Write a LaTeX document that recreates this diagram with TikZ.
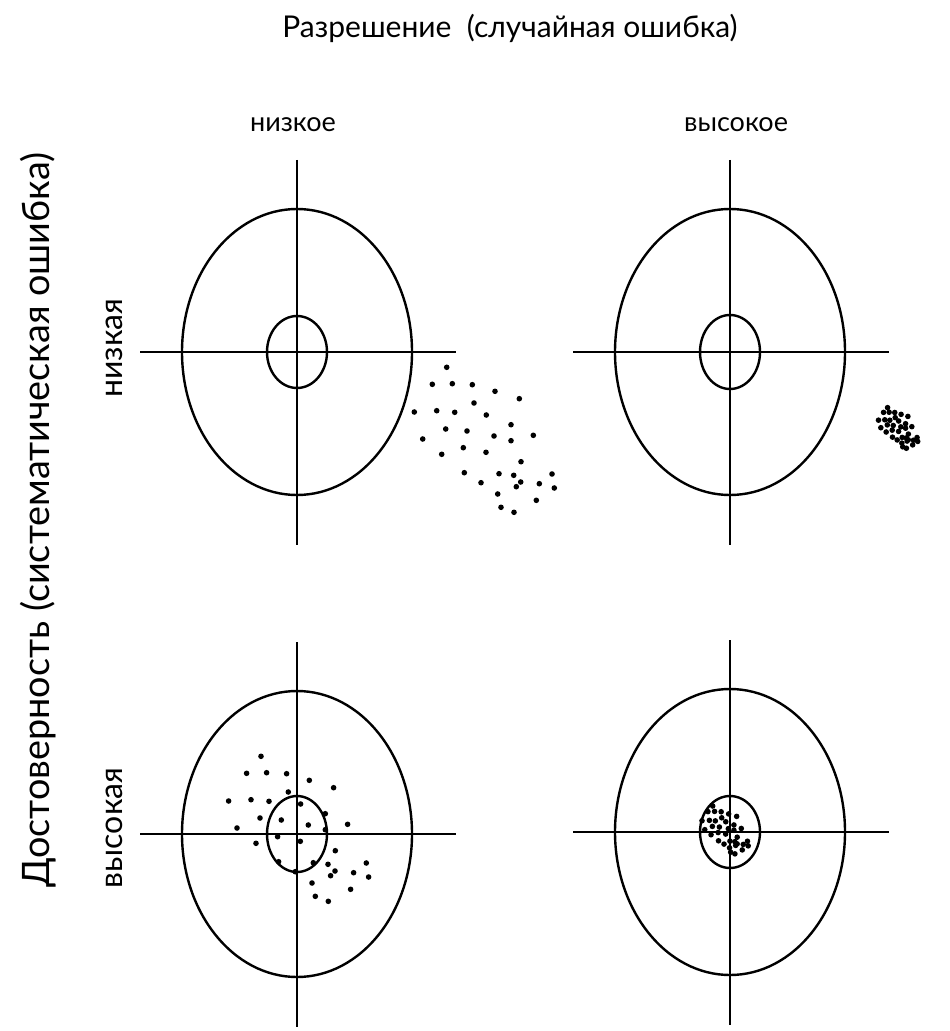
\documentclass[tikz,border=0pt]{standalone}
\usepackage{fontspec}
\setmainfont{Lato}
\usepackage{tikz}
\usetikzlibrary{positioning}

% hit pattern, pivot at (484,440)
\def\hitlist{446.7/367.3, 432.3/384.3, 452.3/383.7, 472.3/384.7, 495/391.3,
  519.3/398.7, 474/403, 414.3/412, 436.7/410.7, 454.7/412.3, 486.3/415,
  511/424.7, 445.7/429, 467/431, 494/436, 533.3/435.3, 422.7/439, 511/440.7,
  463.3/447.7, 486/452.3, 441.7/454.3, 521/461.7, 464.3/472.7, 499/473.7,
  513.7/475.3, 552/474, 481/482.7, 520.7/482, 516.3/486.7, 539.3/483.7,
  554.3/488, 497.7/494, 536.3/500.3, 501/507.3, 514/512.3}
\newcommand{\hitcloud}[3]{%
  \foreach \hx/\hy in \hitlist
    \fill ({#1+#3*(\hx-484)},{#2+#3*(\hy-440)}) circle[radius=1.4pt];}

\begin{document}
\begin{tikzpicture}[
  x=0.5pt, y=-0.5pt,
  line width=1.2pt,
  lbl/.style={font=\fontsize{13.5}{16}\selectfont, inner sep=0pt},
  sidelbl/.style={font=\fontsize{16}{19}\selectfont, inner sep=0pt, rotate=90},
]
  \useasboundingbox (0,0) rectangle (949,1031);

  % headings
  \node[lbl, font=\fontsize{15}{18}\selectfont] (title) at (510,28) {Разрешение\ \ (случайная ошибка)};
  \node[sidelbl, font=\fontsize{18.9}{22}\selectfont] (axis) at (38,520) {Достоверность (систематическая ошибка)};
  \node[lbl] (low) at (293,125) {низкое};
  \node[lbl] (high) at (736,125) {высокое};
  \node[sidelbl] (lowacc) at (114,348) {низкая};
  \node[sidelbl] (highacc) at (114,828) {высокая};

  % targets
  \foreach \cx/\cy/\ir in {297/352/36, 730/352/37, 297/834/38, 730/832/36} {
    \draw (\cx,\cy) ellipse[x radius=115, y radius=143];
    \draw (\cx,\cy) ellipse[x radius=30, y radius=\ir];
    \draw (\cx-157,\cy) -- (\cx+159,\cy);
    \draw (\cx,\cy-192) -- (\cx,\cy+193);
  }

  % hits
  \hitcloud{484}{440}{1}
  \hitcloud{298.3}{829}{1}
  \hitcloud{898}{428}{0.28}
  \hitcloud{725}{830}{0.33}
\end{tikzpicture}
\end{document}
